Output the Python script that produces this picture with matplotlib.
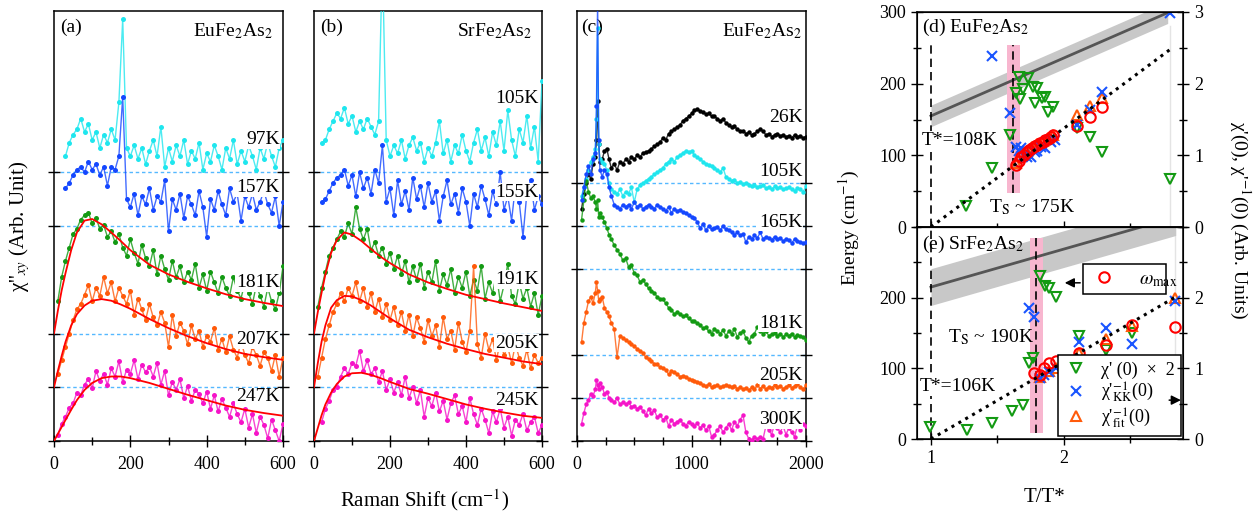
import numpy as np
import matplotlib
matplotlib.use('Agg')
import matplotlib.pyplot as plt
from matplotlib.lines import Line2D
from matplotlib.ticker import MultipleLocator

plt.rcParams['font.family'] = ['Liberation Serif', 'DejaVu Serif']
plt.rcParams['mathtext.fontset'] = 'stix'
plt.rcParams['font.size'] = 13

# ---------------- colours ----------------
CYAN, BLUE, GREEN, ORANGE, MAGENTA, BLACK = '#1fe6ee', '#1447ff', '#139a13', '#ff5a0a', '#f514c8', '#000000'
RED = '#ff0000'

# ---------------- panel (a) EuFe2As2 ----------------
xa_lo = np.arange(10, 601, 10)      # green / orange / magenta
xa_hi = np.arange(30, 601, 10)      # blue / cyan
a_magenta = [0.12, 0.32, 0.45, 0.62, 0.70, 0.90, 0.85, 1.05, 1.15, 0.98,
             1.30, 1.12, 1.25, 1.05, 1.35, 1.20, 1.48, 1.10, 1.32, 1.25,
             1.50, 1.15, 1.42, 1.28, 1.38, 1.20, 1.45, 1.05, 1.30, 0.85,
             1.10, 0.95, 1.15, 0.80, 1.02, 0.75, 0.95, 0.88, 0.70, 0.92,
             0.60, 0.85, 0.55, 0.78, 0.62, 0.45, 0.70, 0.50, 0.35, 0.60,
             0.25, 0.50, 0.15, 0.45, 0.30, 0.05, 0.40, 0.20, 0.00, 0.32]
a_orange = [1.25, 1.50, 1.75, 2.00, 2.25, 2.45, 2.55, 2.72, 2.90, 2.60,
            2.85, 2.70, 3.05, 2.75, 2.95, 2.60, 2.85, 2.70, 2.55, 2.80,
            2.35, 2.65, 2.45, 2.25, 2.55, 2.30, 2.15, 2.40, 2.20, 1.75,
            2.35, 1.95, 2.20, 2.05, 1.80, 2.15, 1.90, 2.05, 1.75, 1.95,
            1.85, 2.10, 1.70, 1.90, 1.65, 1.95, 1.70, 1.55, 1.85, 1.60,
            1.45, 1.75, 1.60, 1.40, 1.65, 1.55, 1.30, 1.60, 1.20, 1.55]
a_green = [2.60, 3.05, 3.35, 3.60, 3.85, 3.95, 4.12, 4.20, 4.25, 4.05,
           4.15, 3.95, 4.02, 3.80, 3.90, 3.70, 3.85, 3.60, 3.45, 3.75,
           3.50, 3.30, 3.65, 3.40, 3.25, 3.55, 3.10, 3.45, 3.20, 3.00,
           3.35, 3.05, 3.25, 2.95, 3.15, 3.00, 3.30, 2.85, 3.10, 2.80,
           3.15, 2.95, 2.75, 3.05, 2.85, 2.70, 3.05, 2.80, 2.65, 2.95,
           2.75, 2.55, 2.90, 2.70, 2.50, 2.85, 2.60, 2.45, 2.75, 3.25]
a_blue = [4.70, 4.80, 4.95, 5.05, 5.10, 5.00, 5.20, 5.05, 5.15, 4.95,
          5.10, 4.75, 5.10, 5.05, 5.30, 6.40, 4.50, 4.35, 4.60, 4.20,
          4.55, 4.40, 4.70, 4.30, 4.55, 4.45, 4.85, 3.90, 4.50, 4.30,
          4.60, 4.15, 4.55, 4.40, 4.20, 4.65, 4.35, 3.80, 4.50, 4.30,
          4.65, 4.40, 4.20, 4.70, 4.45, 4.60, 4.10, 4.55, 4.35, 4.60,
          4.30, 4.45, 4.65, 4.40, 4.25, 4.55, 4.00, 4.45]
a_cyan = [5.30, 5.55, 5.70, 5.80, 6.00, 5.75, 5.90, 5.60, 5.75, 5.45,
          5.70, 5.55, 5.80, 5.60, 6.30, 7.85, 5.45, 5.30, 5.50, 5.25,
          5.45, 5.15, 5.40, 5.60, 5.30, 5.85, 5.10, 5.45, 5.20, 5.50,
          5.30, 5.60, 5.15, 5.40, 5.25, 5.55, 5.05, 5.35, 5.20, 5.50,
          5.30, 5.05, 5.45, 5.25, 5.60, 5.15, 5.40, 5.20, 5.50, 5.30,
          5.05, 5.45, 5.25, 5.55, 5.30, 5.10, 5.45, 5.60]
fit_x = [0, 10, 20, 30, 45, 60, 80, 100, 125, 150, 175, 200, 250, 300, 350, 400, 450, 500, 550, 600]
a_fit_green = [2.0, 2.42, 2.8, 3.12, 3.55, 3.88, 4.1, 4.13, 4.03, 3.88, 3.72, 3.55, 3.28, 3.1, 2.96, 2.84, 2.73, 2.64, 2.57, 2.51]
a_fit_orange = [1.0, 1.3, 1.58, 1.84, 2.15, 2.36, 2.52, 2.61, 2.64, 2.61, 2.54, 2.46, 2.27, 2.1, 1.95, 1.82, 1.71, 1.62, 1.56, 1.51]
a_fit_magenta = [0.0, 0.13, 0.26, 0.39, 0.58, 0.76, 0.95, 1.08, 1.17, 1.2, 1.2, 1.17, 1.08, 0.97, 0.86, 0.76, 0.66, 0.58, 0.52, 0.47]
a_labels = ['97K', '157K', '181K', '207K', '247K']

# ---------------- panel (b) SrFe2As2 ----------------
xb_lo = np.arange(10, 601, 10)      # green / orange
xb_hi = np.arange(20, 601, 10)      # magenta / blue / cyan
b_magenta = [0.35, 0.60, 0.75, 0.95, 1.00, 1.20, 1.35, 1.25, 1.45, 1.40,
             1.68, 1.30, 1.50, 1.25, 1.35, 1.10, 1.30, 0.95, 1.15, 0.90,
             1.10, 0.85, 1.20, 0.80, 1.00, 0.70, 0.95, 0.45, 0.80, 0.65,
             0.90, 0.55, 0.75, 0.40, 0.70, 0.85, 0.50, 0.65, 0.35, 0.80,
             0.50, 0.30, 0.60, 0.40, 0.15, 0.55, 0.35, 0.60, 0.25, 0.45,
             0.10, 0.40, 0.30, 0.50, 0.20, 0.35, 0.45, 0.15, 0.30]
b_orange = [1.20, 1.55, 1.90, 2.15, 2.40, 2.55, 2.75, 2.60, 2.85, 2.70,
            2.95, 2.60, 2.85, 2.50, 2.75, 2.40, 2.65, 2.30, 2.55, 2.25,
            2.50, 2.15, 2.40, 2.05, 2.35, 1.95, 2.30, 2.10, 1.85, 2.25,
            1.95, 2.15, 1.75, 2.30, 1.90, 2.05, 1.70, 2.20, 1.85, 1.65,
            2.05, 3.25, 1.80, 1.55, 2.00, 1.70, 1.90, 1.50, 1.85, 1.60,
            1.75, 1.45, 1.80, 1.55, 1.40, 1.70, 1.35, 1.60, 1.45, 1.55]
b_green = [2.50, 2.85, 3.15, 3.45, 3.60, 3.75, 3.90, 3.80, 4.05, 3.85,
           4.35, 3.95, 3.75, 3.95, 3.55, 3.70, 3.45, 3.60, 3.30, 3.50,
           3.20, 3.45, 3.10, 3.35, 2.95, 3.25, 3.00, 3.30, 2.85, 3.15,
           2.95, 3.35, 2.80, 3.10, 2.90, 3.20, 2.75, 3.05, 2.85, 3.15,
           2.70, 3.00, 2.80, 3.25, 2.65, 2.95, 2.75, 3.10, 2.60, 2.90,
           3.30, 2.70, 2.55, 2.95, 2.65, 2.85, 2.50, 2.75, 2.35, 2.70]
b_blue = [4.45, 4.50, 4.65, 4.80, 4.90, 4.95, 5.05, 4.75, 4.95, 4.55,
          5.00, 4.70, 4.90, 4.60, 5.05, 4.80, 5.50, 4.45, 4.70, 4.20,
          4.85, 4.40, 4.65, 4.30, 4.90, 4.50, 4.75, 4.35, 4.80, 4.45,
          4.65, 4.10, 4.55, 4.85, 4.40, 4.60, 4.25, 4.70, 4.45, 4.00,
          4.60, 4.35, 4.75, 4.50, 4.20, 4.65, 4.40, 5.00, 4.30, 4.55,
          4.10, 4.75, 4.45, 3.80, 4.60, 4.85, 4.30, 4.55, 4.40]
b_cyan = [5.55, 5.60, 5.80, 5.95, 6.10, 6.00, 6.20, 5.90, 6.05, 5.75,
          5.95, 5.80, 6.00, 5.85, 5.70, 5.95, 9.00, 5.60, 5.30, 5.50,
          5.35, 5.60, 5.25, 5.50, 5.65, 5.40, 5.55, 5.20, 5.45, 5.30,
          5.55, 5.95, 5.35, 5.60, 5.20, 5.50, 5.35, 5.70, 5.40, 5.20,
          5.55, 5.80, 5.40, 5.65, 5.30, 5.75, 5.50, 5.95, 5.40, 6.15,
          5.60, 5.30, 5.80, 5.55, 6.05, 5.45, 5.85, 5.20, 6.70]
b_fit_green = [2.0, 2.4, 2.76, 3.1, 3.5, 3.74, 3.88, 3.84, 3.72, 3.57, 3.43, 3.31, 3.1, 2.95, 2.83, 2.72, 2.64, 2.56, 2.49, 2.42]
b_fit_orange = [1.0, 1.45, 1.85, 2.15, 2.48, 2.62, 2.7, 2.69, 2.62, 2.52, 2.4, 2.28, 2.07, 1.93, 1.81, 1.71, 1.62, 1.55, 1.48, 1.43]
b_fit_magenta = [0.0, 0.24, 0.48, 0.68, 0.9, 1.06, 1.2, 1.26, 1.27, 1.23, 1.17, 1.1, 0.97, 0.88, 0.78, 0.68, 0.6, 0.53, 0.47, 0.43]
b_labels = ['105K', '155K', '191K', '205K', '245K']

# ---------------- panel (c) EuFe2As2 wide range ----------------
xc = np.concatenate([[40, 60, 80, 100, 120, 140, 160, 170, 180, 190, 200, 220, 240, 260, 280, 300],
                     np.arange(325, 2001, 25)])
c_black = [5.4, 5.75, 6.0, 6.2, 6.1, 6.45, 6.6, 7.0, 7.9, 6.9, 6.5, 6.55, 6.75, 6.8, 6.55, 6.35,
           6.45, 6.3, 6.5, 6.45, 6.55, 6.5, 6.6, 6.55, 6.65, 6.6, 6.7, 6.72,
           6.75, 6.8, 6.85, 6.9, 6.95, 7.05, 7.0, 7.15, 7.2, 7.25, 7.3, 7.35,
           7.45, 7.5, 7.55, 7.62, 7.7, 7.72, 7.68, 7.65, 7.6, 7.62, 7.55, 7.55,
           7.5, 7.45, 7.5, 7.4, 7.35, 7.3, 7.32, 7.25, 7.2, 7.22, 7.15, 7.18,
           7.12, 7.15, 7.2, 7.25, 7.2, 7.12, 7.15, 7.08, 7.12, 7.15, 7.1, 7.12,
           7.08, 7.1, 7.05, 7.12, 7.08, 7.1, 7.05, 7.08]
c_cyan = [5.7, 5.9, 6.1, 6.3, 6.5, 6.6, 6.8, 7.5, 9.6, 6.9, 6.55, 6.5, 6.45, 6.3, 6.0, 5.85,
          5.8, 5.75, 5.85, 5.7, 5.8, 5.75, 5.9, 5.55, 5.85, 5.95, 6.0, 6.05,
          6.1, 6.15, 6.2, 6.25, 6.3, 6.35, 6.45, 6.5, 6.55, 6.5, 6.6, 6.65,
          6.7, 6.75, 6.72, 6.75, 6.65, 6.6, 6.55, 6.5, 6.45, 6.42, 6.4, 6.35,
          6.3, 6.25, 6.35, 6.15, 6.1, 6.05, 6.08, 6.0, 6.02, 5.98, 6.0, 5.95,
          5.92, 5.95, 5.9, 5.92, 5.95, 5.88, 5.9, 5.85, 5.92, 5.88, 5.9, 5.85,
          5.88, 5.9, 5.85, 5.82, 5.88, 5.85, 5.8, 5.92]
c_blue = [5.6, 5.9, 6.2, 6.4, 6.2, 6.55, 6.7, 7.8, 10.2, 7.0, 6.3, 6.15, 6.3, 6.2, 5.9, 5.7,
          5.5, 5.45, 5.4, 5.5, 5.45, 5.5, 5.4, 5.55, 5.45, 5.5, 5.4, 5.45,
          5.5, 5.45, 5.4, 5.5, 5.45, 5.4, 5.35, 5.45, 5.3, 5.4, 5.35, 5.38,
          5.32, 5.3, 5.25, 5.22, 5.18, 5.1, 4.95, 5.05, 4.9, 5.0, 4.92, 4.95,
          4.98, 4.9, 5.0, 4.92, 4.9, 4.85, 4.8, 4.85, 4.78, 4.82, 4.62, 4.75,
          4.7, 4.78, 4.72, 4.85, 4.7, 4.75, 4.72, 4.68, 4.75, 4.7, 4.72, 4.65,
          4.7, 4.68, 4.6, 4.7, 4.65, 4.62, 4.6, 4.62]
c_green = [5.15, 5.6, 6.05, 5.8, 5.65, 5.7, 5.55, 5.4, 5.6, 5.2, 5.3, 5.2, 5.1, 4.95, 4.8, 4.7,
           4.55, 4.45, 4.35, 4.2, 4.25, 4.05, 4.1, 3.9, 3.85, 3.7, 3.75, 3.65,
           3.55, 3.5, 3.45, 3.35, 3.3, 3.3, 3.2, 3.1, 3.05, 2.95, 3.0, 2.95,
           2.9, 2.92, 2.85, 2.8, 2.78, 2.75, 2.7, 2.62, 2.65, 2.55, 2.5, 2.6,
           2.55, 2.5, 2.58, 2.45, 2.55, 2.5, 2.6, 2.42, 2.52, 2.55, 2.4, 2.3,
           2.45, 2.5, 2.65, 2.55, 2.5, 2.55, 2.45, 2.48, 2.52, 2.45, 2.5, 2.42,
           2.48, 2.45, 2.5, 2.42, 2.46, 2.44, 2.42, 2.35]
c_orange = [2.3, 2.75, 3.0, 3.25, 3.35, 3.2, 3.45, 3.7, 3.5, 3.25, 3.3, 3.35, 3.1, 3.0, 2.9, 2.75,
            2.6, 1.95, 2.45, 2.4, 2.35, 2.3, 2.25, 2.2, 2.15, 2.1, 2.05, 1.95,
            1.9, 1.85, 1.8, 1.78, 1.72, 1.7, 1.65, 1.55, 1.62, 1.6, 1.55, 1.5,
            1.52, 1.5, 1.45, 1.42, 1.4, 1.38, 1.35, 1.3, 1.28, 1.32, 1.25, 1.28,
            1.3, 1.25, 1.28, 1.3, 1.27, 1.25, 1.28, 1.22, 1.25, 1.2, 1.24, 1.18,
            1.25, 1.2, 1.3, 1.22, 1.28, 1.2, 1.26, 1.24, 1.3, 1.25, 1.28, 1.22,
            1.26, 1.3, 1.24, 1.28, 1.32, 1.25, 1.2, 1.3]
c_magenta = [0.4, 0.65, 0.85, 0.95, 1.1, 1.05, 1.2, 1.42, 1.3, 1.2, 1.35, 1.25, 1.1, 1.15, 1.0, 0.95,
             0.9, 1.0, 0.85, 0.9, 0.85, 0.9, 0.8, 0.82, 0.75, 0.8, 0.7, 0.6,
             0.75, 0.65, 0.72, 0.55, 0.6, 0.5, 0.55, 0.35, 0.5, 0.4, 0.45, 0.5,
             0.4, 0.35, 0.45, 0.4, 0.35, 0.42, 0.3, 0.38, 0.25, 0.35, 0.1, 0.15,
             0.25, 0.35, 0.2, 0.3, 0.4, 0.25, 0.45, 0.35, 0.5, 0.6, 0.2, 0.05,
             0.02, 0.1, 0.05, 0.1, 0.05, 0.35, 0.25, 0.15, 0.4, 0.3, 0.2, 0.35,
             0.15, 0.3, 0.2, 0.1, 0.35, 0.25, 0.4, 0.35]
c_labels = ['26K', '105K', '165K', '181K', '205K', '300K']

# ---------------- panels (d), (e) ----------------
d_Tstar, d_TS = 108.0, 175.0
e_Tstar, e_TS = 106.0, 190.0
d_green_x = [1.263, 1.456, 1.594, 1.637, 1.667, 1.689, 1.664, 1.732, 1.769, 1.801, 1.782, 1.832, 1.857, 1.882, 1.920, 2.10, 2.195, 2.288, 2.797]
d_green_y = [30, 83, 128, 187, 178, 192, 209, 208, 196, 194, 173, 180, 182, 160, 167, 138, 125, 105, 67]
d_blue_x = [1.459, 1.594, 1.64, 1.66, 1.68, 1.70, 1.72, 1.75, 1.78, 1.80, 1.83, 1.86, 1.90, 1.93, 2.10, 2.195, 2.288, 2.797]
d_blue_y = [239, 159, 112, 106, 110, 100, 98, 98, 104, 106, 112, 110, 118, 121, 142, 163, 188, 299]
d_red_x = [1.64, 1.66, 1.68, 1.70, 1.72, 1.74, 1.76, 1.78, 1.80, 1.82, 1.84, 1.86, 1.88, 1.90, 1.92, 2.10, 2.195, 2.288]
d_red_y = [86, 92, 97, 100, 104, 107, 110, 113, 115, 117, 119, 121, 123, 125, 128, 141, 153, 167]
d_orange_x = [1.64, 1.68, 1.72, 1.76, 1.80, 1.84, 1.88, 1.92, 2.10, 2.195, 2.288]
d_orange_y = [90, 99, 106, 112, 116, 120, 124, 129, 156, 169, 180]
e_green_x = [0.99, 1.268, 1.459, 1.607, 1.694, 1.737, 1.769, 1.82, 1.857, 1.89, 1.94, 2.115, 2.313, 2.509]
e_green_y = [17, 13, 22, 40, 48, 107, 114, 231, 217, 214, 201, 146, 126, 150]
e_blue_x = [1.739, 1.777, 1.82, 1.85, 1.89, 1.94, 2.115, 2.313, 2.509, 2.835]
e_blue_y = [186, 173, 86, 90, 95, 100, 137, 157, 134, 195]
e_red_x = [1.777, 1.82, 1.85, 1.89, 1.94, 2.115, 2.313, 2.509, 2.835]
e_red_y = [93, 91, 100, 107, 111, 121, 133, 162, 159]
e_orange_x = [1.82, 1.89, 1.94, 2.115, 2.313, 2.509, 2.835]
e_orange_y = [88, 96, 101, 122, 142, 160, 200]
d_band_x, d_band_y, d_band_hw = [1.0, 2.78], [155, 299], 15
e_band_x, e_band_y, e_band_hw = [1.0, 2.84], [215, 314], 26
d_dot_x, d_dot_y = [1.0, 2.8], [0, 248]
e_dot_x, e_dot_y = [1.0, 2.83], [0, 200]

# ---------------- figure ----------------
W, H = 1255, 512
fig = plt.figure(figsize=(W / 100, H / 100), dpi=100)


def box(l, t, r, b):
    return [l / W, 1 - b / H, (r - l) / W, (b - t) / H]


axa = fig.add_axes(box(54, 11, 283, 441))
axb = fig.add_axes(box(314, 11, 542, 441))
axc = fig.add_axes(box(577, 11, 806, 441))
axd = fig.add_axes(box(917, 12, 1183, 227))
axe = fig.add_axes(box(917, 227, 1183, 439))

DASH = '#55b8ff'


def setup_spec(ax, xmax, ymax, yt, xmaj, xmin_):
    ax.set_xlim(0, xmax)
    ax.set_ylim(0, ymax)
    ax.set_yticks(yt)
    ax.set_yticklabels([])
    ax.xaxis.set_major_locator(MultipleLocator(xmaj))
    ax.xaxis.set_minor_locator(MultipleLocator(xmin_))
    ax.tick_params(axis='x', which='major', direction='inout', length=9, width=1, pad=6, labelsize=13)
    ax.tick_params(axis='x', which='minor', direction='inout', length=6, width=1)
    ax.tick_params(axis='y', which='major', direction='inout', length=9, width=1, left=True, right=True)
    for sp in ax.spines.values():
        sp.set_linewidth(1.1)
    for y in yt[1:]:
        ax.axhline(y, color=DASH, ls=(0, (2.5, 2)), lw=1, zorder=1)


def spec(ax, x, y, c, ms=3.6):
    ax.plot(x, y, '-', color=c, lw=1.0, alpha=0.8, zorder=3)
    ax.plot(x, y, 'o', color=c, ms=ms, mew=0, zorder=3)


# panel a
setup_spec(axa, 600, 8, [0, 1, 2, 4, 5], 200, 100)
spec(axa, xa_hi, a_cyan, CYAN)
spec(axa, xa_hi, a_blue, BLUE)
spec(axa, xa_lo, a_green, GREEN)
spec(axa, xa_lo, a_orange, ORANGE)
spec(axa, xa_lo, a_magenta, MAGENTA)
for f in (a_fit_green, a_fit_orange, a_fit_magenta):
    axa.plot(fit_x, f, color=RED, lw=1.3, zorder=4)
for lab, yy in zip(a_labels, [5.6, 4.71, 2.94, 1.88, 0.82]):
    axa.text(0.985, yy, lab, transform=axa.get_yaxis_transform(), ha='right', va='center', fontsize=14,
             bbox=dict(facecolor='white', edgecolor='none', pad=0.5), zorder=5)
axa.text(0.025, 0.962, '(a)', transform=axa.transAxes, ha='left', va='center', fontsize=14)
axa.text(0.955, 0.952, 'EuFe$_2$As$_2$', transform=axa.transAxes, ha='right', va='center', fontsize=14)

# panel b
setup_spec(axb, 600, 8, [0, 1, 2, 4, 5], 200, 100)
spec(axb, xb_hi, b_cyan, CYAN)
spec(axb, xb_hi, b_blue, BLUE)
spec(axb, xb_lo, b_green, GREEN)
spec(axb, xb_lo, b_orange, ORANGE)
spec(axb, xb_hi, b_magenta, MAGENTA)
for f in (b_fit_green, b_fit_orange, b_fit_magenta):
    axb.plot(fit_x, f, color=RED, lw=1.3, zorder=4)
for lab, yy in zip(b_labels, [6.38, 4.63, 3.0, 1.82, 0.76]):
    axb.text(0.985, yy, lab, transform=axb.get_yaxis_transform(), ha='right', va='center', fontsize=14,
             bbox=dict(facecolor='white', edgecolor='none', pad=0.5), zorder=5)
axb.text(0.025, 0.962, '(b)', transform=axb.transAxes, ha='left', va='center', fontsize=14)
axb.text(0.96, 0.952, 'SrFe$_2$As$_2$', transform=axb.transAxes, ha='right', va='center', fontsize=14)

# panel c
setup_spec(axc, 2000, 10, [0, 1, 2, 4, 5, 6], 1000, 250)
axc.text(0.02, 0.962, '(c)', transform=axc.transAxes, ha='left', va='center', fontsize=14, zorder=2)
axc.text(0.98, 0.952, 'EuFe$_2$As$_2$', transform=axc.transAxes, ha='right', va='center', fontsize=14)
for ys, c in ((c_black, BLACK), (c_cyan, CYAN), (c_green, GREEN), (c_blue, BLUE),
              (c_orange, ORANGE), (c_magenta, MAGENTA)):
    spec(axc, xc, ys, c, ms=3.2)
for lab, yy in zip(c_labels, [7.53, 6.26, 5.09, 2.74, 1.53, 0.49]):
    axc.text(0.985, yy, lab, transform=axc.get_yaxis_transform(), ha='right', va='center', fontsize=14,
             bbox=dict(facecolor='white', edgecolor='none', pad=0.5), zorder=5)

# panels d, e
MK = dict(ls='none', ms=7.5, mew=1.5)


def energy_panel(ax, tstar, ts, band_x, band_y, hw, dot_x, dot_y, pink_y, x1_top,
                 gx, gy, bx, by, ox, oy, rx, ry):
    ax.set_xlim(0.895, 2.895)
    ax.set_ylim(0, 300)
    bx_ = np.array(band_x)
    by_ = np.array(band_y)
    ax.fill_between(bx_, by_ - hw, by_ + hw, color='#c8c8c8', lw=0, zorder=1)
    ax.plot(bx_, by_, color='#555555', lw=2, zorder=2)
    r = ts / tstar
    ax.fill_between([r - 0.05, r + 0.05], pink_y[0], pink_y[1], color='#f8b6cf', lw=0, zorder=1.5)
    ax.plot([r, r], pink_y, color='k', ls=(0, (5, 3)), lw=1.2, zorder=2)
    ax.plot([1, 1], [0, x1_top], color='k', ls=(0, (5, 3)), lw=1.2, zorder=2)
    ax.plot(dot_x, dot_y, color='k', ls=(0, (1, 1.6)), lw=2.2, zorder=6)
    ax.plot(gx, gy, marker='v', mfc='none', mec=GREEN, zorder=4, **MK)
    ax.plot(ox, oy, marker='^', mfc='none', mec=ORANGE, zorder=4, **MK)
    ax.plot(bx, by, marker='x', color='#1a55ff', zorder=5, **MK)
    ax.plot(rx, ry, marker='o', mfc='none', mec=RED, zorder=5, **MK)
    ax.xaxis.set_major_locator(MultipleLocator(1))
    ax.xaxis.set_minor_locator(MultipleLocator(0.5))
    ax.yaxis.set_minor_locator(MultipleLocator(50))
    ax.tick_params(which='major', direction='inout', length=9, width=1, labelsize=13)
    ax.tick_params(which='minor', direction='inout', length=6, width=1)
    for sp in ax.spines.values():
        sp.set_linewidth(1.1)
    axr = ax.twinx()
    axr.set_ylim(0, 3)
    axr.yaxis.set_minor_locator(MultipleLocator(0.5))
    axr.tick_params(which='major', direction='inout', length=9, width=1, labelsize=13)
    axr.tick_params(which='minor', direction='inout', length=6, width=1)
    return axr


axdr = energy_panel(axd, d_Tstar, d_TS, d_band_x, d_band_y, d_band_hw, d_dot_x, d_dot_y, (47, 254), 254,
                    d_green_x, d_green_y, d_blue_x, d_blue_y, d_orange_x, d_orange_y, d_red_x, d_red_y)
axd.set_yticks([0, 100, 200, 300])
axd.tick_params(labelbottom=False)
axdr.set_yticks([0, 1, 2, 3])
axd.plot([2.8, 2.8], [0, 280], color='#e4e4e4', lw=1, zorder=0.5)
axd.text(0.93, 279, '(d) EuFe$_2$As$_2$', ha='left', va='center', fontsize=14)
axd.text(0.93, 121, 'T*=108K', ha='left', va='center', fontsize=14,
         bbox=dict(facecolor='white', edgecolor='none', pad=0.5), zorder=3)
axd.text(1.436, 28, 'T$_\\mathrm{S}$ ~ 175K', ha='left', va='center', fontsize=14, zorder=3)

axer = energy_panel(axe, e_Tstar, e_TS, e_band_x, e_band_y, e_band_hw, e_dot_x, e_dot_y, (8, 285), 300,
                    e_green_x, e_green_y, e_blue_x, e_blue_y, e_orange_x, e_orange_y, e_red_x, e_red_y)
axe.set_yticks([0, 100, 200])
axer.set_yticks([0, 1, 2])
axe.plot([2.835, 2.835], [111, 300], color='#e4e4e4', lw=1, zorder=0.5)
axe.text(0.93, 276, '(e) SrFe$_2$As$_2$', ha='left', va='center', fontsize=14, zorder=3)
axe.text(1.128, 144, 'T$_\\mathrm{S}$ ~ 190K', ha='left', va='center', fontsize=14, zorder=3)
axe.text(0.917, 74, 'T*=106K', ha='left', va='center', fontsize=14,
         bbox=dict(facecolor='white', edgecolor='none', pad=0.5), zorder=3)

h1 = [Line2D([], [], marker='v', mfc='none', mec=GREEN, **MK),
      Line2D([], [], marker='x', color='#1a55ff', **MK),
      Line2D([], [], marker='^', mfc='none', mec=ORANGE, **MK)]
l1 = ["χ' (0)  ×  2", "χ'$_{\\mathrm{KK}}^{-1}$(0)", "χ'$_{\\mathrm{fit}}^{-1}$(0)"]
leg1 = axe.legend(h1, l1, loc='lower right', bbox_to_anchor=(0.992, 0.014),
                  fontsize=13, frameon=True, fancybox=False, edgecolor='k', framealpha=1,
                  borderaxespad=0, handlelength=1.3, handletextpad=0.7, labelspacing=0.1, borderpad=0.35)
leg1.get_frame().set_linewidth(1.1)
leg1.set_zorder(7)
axe.add_artist(leg1)
h2 = [Line2D([], [], marker='o', mfc='none', mec=RED, **MK)]
leg2 = axe.legend(h2, [r"$\omega_{\mathrm{max}}$"], loc='center left', bbox_to_anchor=(0.624, 0.689, 0.312, 0.127),
                  mode='expand', fontsize=14, frameon=True, fancybox=False, edgecolor='k', framealpha=1,
                  borderaxespad=0, handlelength=1.6, handletextpad=1.0, borderpad=0.3)
leg2.get_frame().set_linewidth(1.1)
leg2.set_zorder(7)
axe.annotate('', xy=(1.985, 221), xytext=(2.143, 221),
             arrowprops=dict(arrowstyle='-|>', color='k', lw=1.1, mutation_scale=14), zorder=8)
axe.annotate('', xy=(2.9, 55), xytext=(2.77, 55), annotation_clip=False,
             arrowprops=dict(arrowstyle='-|>', color='k', lw=1.1, mutation_scale=14), zorder=8)

# axis titles
fig.text(20 / W, 1 - 226 / H, "χ''$_{xy}$ (Arb. Unit)", rotation=90, ha='center', va='center', fontsize=15)
fig.text(425 / W, 1 - 500 / H, 'Raman Shift (cm$^{-1}$)', ha='center', va='center', fontsize=15)
fig.text(849 / W, 1 - 228 / H, 'Energy (cm$^{-1}$)', rotation=90, ha='center', va='center', fontsize=14)
fig.text(1045 / W, 1 - 497 / H, 'T/T*', ha='center', va='center', fontsize=15)
fig.text(1240 / W, 1 - 220 / H, "χ'(0), χ'$^{-1}$(0) (Arb. Units)", rotation=270, ha='center', va='center', fontsize=14)

fig.savefig('out.png', dpi=100)
